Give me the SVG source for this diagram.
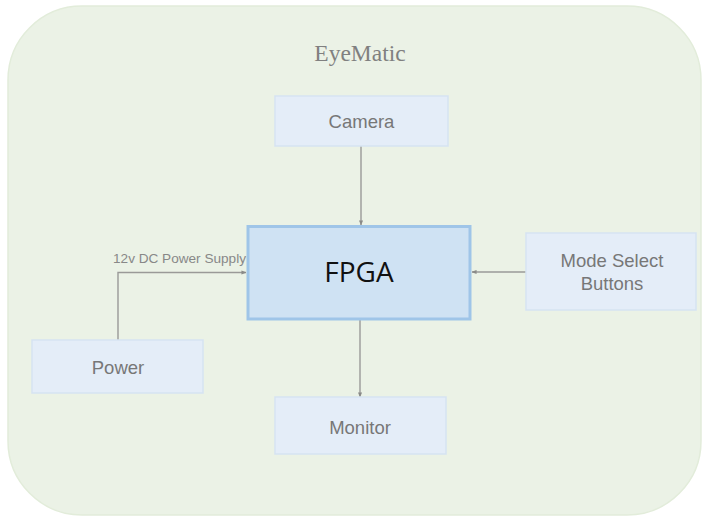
<svg xmlns="http://www.w3.org/2000/svg" width="702" height="516" viewBox="0 0 702 516">
<style>
.node{fill:#e4edf8;stroke:#d6e3f2;stroke-width:1.5}
.lbl{font-family:"Liberation Sans",Arial,sans-serif;font-size:18.5px;fill:#777777;text-anchor:middle}
.conn{stroke:#9a9a98;stroke-width:1.4;fill:none}
</style>
<defs>
<marker id="arr" viewBox="0 0 6 6" refX="5.5" refY="3" markerWidth="5" markerHeight="5" markerUnits="userSpaceOnUse" orient="auto">
<path d="M0,0.5 L6,3 L0,5.5 Z" fill="#8a8a88"/>
</marker>
</defs>
<rect width="702" height="516" fill="#ffffff"/>
<g id="container">
<rect x="8" y="6" width="693" height="509" rx="74" ry="74" fill="#ebf2e6" stroke="#e2ecda" stroke-width="1.5"/>
<text x="360" y="61" font-family="'Liberation Serif','Times New Roman',serif" font-size="23.5" fill="#808080" text-anchor="middle">EyeMatic</text>
</g>
<g id="connectors">
<line class="conn" x1="361" y1="146" x2="361" y2="225" marker-end="url(#arr)"/>
<line class="conn" x1="360" y1="320" x2="360" y2="397" marker-end="url(#arr)"/>
<line class="conn" x1="526" y1="272" x2="472" y2="272" marker-end="url(#arr)"/>
<polyline class="conn" points="118,340 118,272.5 246,272.5" marker-end="url(#arr)"/>
<text x="246" y="262.5" font-family="'Liberation Sans',Arial,sans-serif" font-size="13.6" fill="#888888" text-anchor="end">12v DC Power Supply</text>
</g>
<g id="camera">
<rect class="node" x="275" y="96" width="173" height="50"/>
<text class="lbl" x="361.5" y="128">Camera</text>
</g>
<g id="fpga">
<rect x="248" y="226.5" width="222" height="92.5" fill="#cfe2f3" stroke="#9fc5e8" stroke-width="3"/>
<text x="359" y="282" font-family="'Open Sans','Noto Sans',sans-serif" font-size="28" fill="#111111" text-anchor="middle">FPGA</text>
</g>
<g id="mode">
<rect class="node" x="526" y="233" width="170" height="77"/>
<text class="lbl" x="612" y="267">Mode Select</text>
<text class="lbl" x="612" y="290">Buttons</text>
</g>
<g id="power">
<rect class="node" x="32" y="340" width="171" height="53"/>
<text class="lbl" x="118" y="374">Power</text>
</g>
<g id="monitor">
<rect class="node" x="275" y="397" width="171" height="57"/>
<text class="lbl" x="360" y="434">Monitor</text>
</g>
</svg>
